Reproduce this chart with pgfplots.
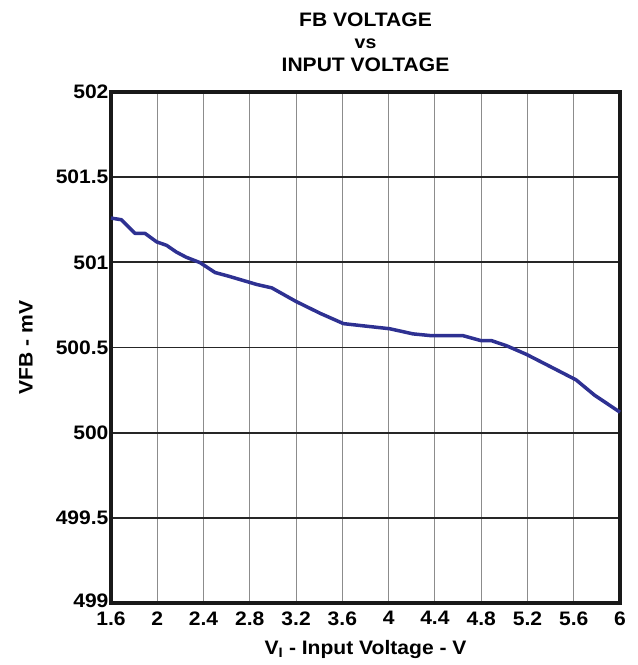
\documentclass[border=0pt]{standalone}
\usepackage{fontspec}
\setmainfont{Liberation Sans}[FakeStretch=1.08]
\usepackage{pgfplots}
\pgfplotsset{compat=1.18}
\definecolor{curve}{HTML}{2E3192}
\begin{document}
\begin{tikzpicture}
\begin{axis}[
  name=ax,
  scale only axis, width=509pt, height=511pt,
  xmin=1.6, xmax=6, ymin=499, ymax=502,
  xtick={1.6,2,2.4,2.8,3.2,3.6,4,4.4,4.8,5.2,5.6,6},
  xticklabels={1.6,2,2.4,2.8,3.2,3.6,4,4.4,4.8,5.2,5.6,6},
  ytick={499,499.5,500,500.5,501,501.5,502},
  yticklabels={\raisebox{5pt}{499},499.5,500,500.5,501,501.5,502},
  ticklabel style={font=\fontsize{19.5}{19.5}\selectfont\bfseries},
  xticklabel style={yshift=-5pt},
  yticklabel style={xshift=1pt},
  major tick length=0pt,
  xmajorgrids, ymajorgrids,
  x grid style={black!45, line width=1pt},
  y grid style={black!85, line width=1.8pt},
  axis line style={line width=3.5pt, black!90},
  xlabel={V\textsubscript{I} - Input Voltage - V},
  ylabel={VFB - mV},
  xlabel style={font=\fontsize{19.5}{20}\selectfont\bfseries, at={(axis description cs:0.5,0)}, anchor=base, yshift=-51pt},
  ylabel style={font=\fontsize{19.5}{20}\selectfont\bfseries, at={(axis description cs:-0.167,0.5)}, anchor=center},
  clip=false,
]
\addplot[curve, line width=3.5pt, line join=round] coordinates {
(1.60,501.26) (1.69,501.25) (1.807,501.17) (1.894,501.17) (1.995,501.12)
(2.08,501.10) (2.166,501.06) (2.25,501.03) (2.37,500.998) (2.50,500.94)
(2.61,500.92) (2.86,500.87) (2.99,500.85) (3.20,500.77) (3.41,500.70)
(3.61,500.64) (4.01,500.61) (4.21,500.58) (4.36,500.57) (4.64,500.57)
(4.80,500.54) (4.89,500.54) (5.02,500.51) (5.19,500.46) (5.42,500.38)
(5.62,500.31) (5.78,500.22) (6.00,500.12)
};
\node[anchor=base, font=\fontsize{19.5}{19.5}\selectfont\bfseries, yshift=65pt] at (rel axis cs:0.5,1) {FB VOLTAGE};
\node[anchor=base, font=\fontsize{18}{18}\selectfont\bfseries, yshift=43pt] at (rel axis cs:0.5,1) {vs};
\node[anchor=base, font=\fontsize{19.5}{19.5}\selectfont\bfseries, yshift=20pt] at (rel axis cs:0.5,1) {INPUT VOLTAGE};
\end{axis}
\pgfresetboundingbox
\path ([xshift=-111pt,yshift=-62pt]ax.south west) rectangle ([xshift=17pt,yshift=92pt]ax.north east);
\end{tikzpicture}
\end{document}
